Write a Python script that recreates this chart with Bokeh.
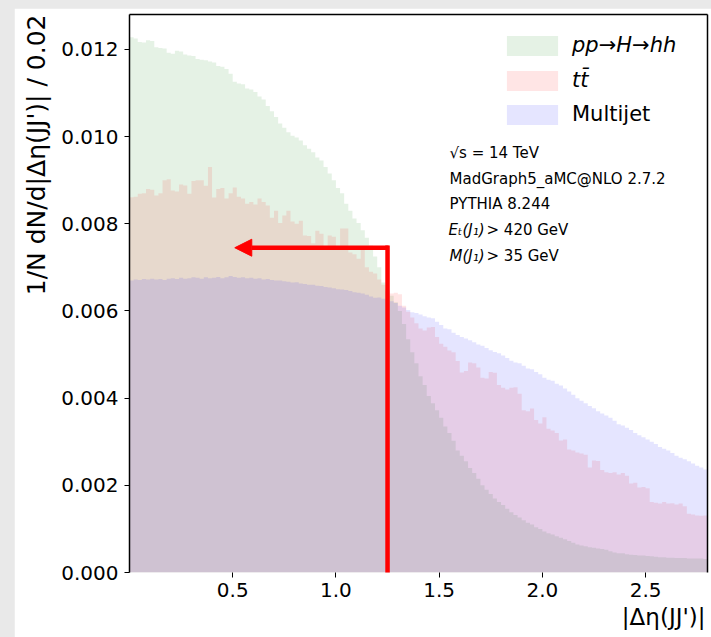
from bokeh.embed import file_html
from bokeh.layouts import column
from bokeh.models import (Arrow, ColumnDataSource, FixedTicker, Label, Legend,
                          LegendItem, LinearAxis, NormalHead, PrintfTickFormatter,
                          Range1d, Title)
from bokeh.plotting import figure
from bokeh.resources import INLINE

# |Delta eta(JJ')| histograms, bin width 0.02, normalised to unit area.
BIN_WIDTH = 0.02
N_BINS = 140

# bin contents in units of 1e-3
signal_hh = [
    12.28, 12.25, 12.17, 12.16, 12.21, 12.19, 12.05, 12.03, 12.02, 11.92,
    11.90, 11.97, 11.95, 11.88, 11.86, 11.85, 11.78, 11.76, 11.75, 11.72,
    11.70, 11.62, 11.60, 11.55, 11.44, 11.26, 11.22, 11.20, 11.10, 11.08,
    11.02, 10.92, 10.85, 10.70, 10.58, 10.45, 10.30, 10.20, 10.10, 10.02,
    9.98, 9.91, 9.80, 9.72, 9.64, 9.52, 9.45, 9.30, 9.15, 9.00,
    8.82, 8.70, 8.46, 8.30, 8.12, 8.02, 7.85, 7.68, 7.50, 7.25,
    7.00, 6.65, 6.45, 6.35, 6.20, 6.00, 5.70, 5.35, 5.05, 4.80,
    4.50, 4.30, 4.05, 3.88, 3.72, 3.55, 3.35, 3.20, 3.02, 2.80,
    2.68, 2.55, 2.40, 2.28, 2.15, 2.00, 1.90, 1.80, 1.70, 1.62,
    1.55, 1.46, 1.38, 1.32, 1.26, 1.20, 1.14, 1.10, 1.04, 1.00,
    0.94, 0.90, 0.87, 0.83, 0.80, 0.76, 0.72, 0.68, 0.64, 0.62,
    0.60, 0.58, 0.57, 0.55, 0.54, 0.52, 0.49, 0.46, 0.44, 0.44,
    0.42, 0.41, 0.40, 0.39, 0.39, 0.38, 0.37, 0.36, 0.35, 0.35,
    0.34, 0.34, 0.33, 0.33, 0.33, 0.32, 0.32, 0.32, 0.32, 0.31,
]

ttbar = [
    8.61, 8.62, 8.69, 8.70, 8.80, 8.78, 8.65, 8.70, 9.00, 9.02,
    8.76, 8.74, 8.90, 8.88, 8.69, 8.98, 9.00, 9.00, 8.87, 9.30,
    8.60, 8.80, 8.82, 8.58, 8.70, 8.83, 8.62, 8.58, 8.46, 8.50,
    8.44, 8.58, 8.50, 8.42, 8.14, 8.30, 8.02, 8.19, 8.30, 8.05,
    8.00, 8.07, 7.73, 7.72, 7.55, 7.84, 7.77, 7.46, 7.73, 7.70,
    7.46, 7.89, 7.89, 7.34, 7.30, 7.20, 7.45, 7.00, 6.90, 6.86,
    6.72, 6.60, 6.50, 6.40, 6.42, 6.38, 6.12, 5.98, 5.85, 5.72,
    5.60, 5.55, 5.62, 5.63, 5.40, 5.25, 5.18, 5.09, 5.05, 4.85,
    4.59, 4.62, 4.82, 4.80, 4.70, 4.47, 4.45, 4.60, 4.58, 4.30,
    4.24, 4.20, 4.24, 4.25, 4.10, 3.72, 3.70, 3.76, 3.50, 3.42,
    3.56, 3.30, 3.26, 3.20, 3.03, 3.05, 2.82, 2.80, 2.75, 2.73,
    2.70, 2.41, 2.57, 2.56, 2.35, 2.30, 2.28, 2.30, 2.25, 2.28,
    2.22, 2.04, 2.06, 1.95, 1.96, 1.93, 1.62, 1.60, 1.58, 1.62,
    1.58, 1.59, 1.56, 1.58, 1.52, 1.35, 1.33, 1.31, 1.30, 1.31,
]

multijet = [
    6.70, 6.72, 6.71, 6.73, 6.72, 6.74, 6.72, 6.73, 6.71, 6.74,
    6.75, 6.73, 6.76, 6.74, 6.75, 6.77, 6.76, 6.74, 6.77, 6.75,
    6.76, 6.78, 6.75, 6.77, 6.80, 6.78, 6.76, 6.77, 6.75, 6.76,
    6.74, 6.75, 6.72, 6.73, 6.71, 6.70, 6.70, 6.68, 6.67, 6.65,
    6.66, 6.63, 6.62, 6.60, 6.60, 6.58, 6.57, 6.55, 6.54, 6.52,
    6.50, 6.49, 6.48, 6.46, 6.43, 6.42, 6.40, 6.37, 6.33, 6.30,
    6.31, 6.28, 6.25, 6.22, 6.18, 6.12, 6.08, 6.02, 5.97, 5.95,
    5.92, 5.88, 5.85, 5.83, 5.75, 5.68, 5.60, 5.58, 5.50, 5.45,
    5.40, 5.37, 5.33, 5.28, 5.23, 5.20, 5.15, 5.10, 5.06, 5.03,
    4.98, 4.92, 4.86, 4.82, 4.80, 4.74, 4.68, 4.66, 4.60, 4.55,
    4.47, 4.42, 4.40, 4.33, 4.29, 4.22, 4.15, 4.08, 4.00, 3.94,
    3.88, 3.82, 3.77, 3.70, 3.65, 3.60, 3.55, 3.48, 3.40, 3.37,
    3.32, 3.27, 3.20, 3.15, 3.10, 3.05, 3.00, 2.95, 2.88, 2.84,
    2.80, 2.74, 2.68, 2.63, 2.60, 2.55, 2.50, 2.45, 2.41, 2.36,
]

y_ticks = [0.000, 0.002, 0.004, 0.006, 0.008, 0.010, 0.012]
x_ticks = [0.5, 1.0, 1.5, 2.0, 2.5]

# selection cut marked on the plot
cut_value = 1.25
arrow_level = 0.00745
arrow_tip = 0.51

stat_lines = [
    "\u221as = 14 TeV",
    "MadGraph5_aMC@NLO 2.7.2",
    "PYTHIA 8.244",
]

FONT = "DejaVu Sans"

edges = [round(i * BIN_WIDTH, 2) for i in range(N_BINS + 1)]


def step_source(values):
    vals = [v * 1e-3 for v in values]
    return ColumnDataSource(dict(x=edges, top=vals + [vals[-1]]))


p = figure(
    width=697, height=629,
    x_range=Range1d(0, 2.8), y_range=Range1d(0, 0.0128),
    output_backend="svg", toolbar_location=None,
    min_border_left=115, min_border_right=4, min_border_top=6, min_border_bottom=65,
)
p.background_fill_color = "white"
p.border_fill_color = "white"
p.outline_line_color = None
p.xgrid.visible = False
p.ygrid.visible = False

series = [
    (signal_hh, "green", "pp\u2192H\u2192hh", "italic"),
    (ttbar, "red", "tt\u0304", "italic"),
    (multijet, "blue", "Multijet", "normal"),
]

renderers = []
for values, color, _, _ in series:
    r = p.varea_step(x="x", y1=0, y2="top", step_mode="after",
                     source=step_source(values),
                     fill_color=color, fill_alpha=0.1)
    renderers.append(r)

# axes
for ax in (p.xaxis[0], p.yaxis[0]):
    ax.major_tick_in = 0
    ax.major_tick_out = 5
    ax.minor_tick_line_color = None
    ax.major_tick_line_color = "black"
    ax.major_tick_line_width = 1
    ax.major_label_text_font = FONT
    ax.major_label_text_font_size = "20px"
    ax.major_label_text_color = "black"

p.yaxis[0].ticker = FixedTicker(ticks=y_ticks)
p.yaxis[0].formatter = PrintfTickFormatter(format="%.3f")
p.yaxis[0].axis_line_color = "black"
p.yaxis[0].axis_line_width = 1.5
p.yaxis[0].major_label_standoff = 6

p.xaxis[0].ticker = FixedTicker(ticks=x_ticks)
p.xaxis[0].formatter = PrintfTickFormatter(format="%.1f")
p.xaxis[0].axis_line_color = None
p.xaxis[0].major_label_standoff = 5

for side in ("above", "right"):
    spine = LinearAxis(ticker=FixedTicker(ticks=[]), axis_line_color="black",
                       axis_line_width=1.5, major_tick_line_color=None,
                       minor_tick_line_color=None, major_label_standoff=0,
                       major_label_text_font_size="0px")
    p.add_layout(spine, side)

# axis titles, right/top aligned
p.add_layout(Title(text="1/N dN/d|\u0394\u03b7(JJ')| / 0.02", align="right",
                   vertical_align="top", text_font=FONT, text_font_size="25px",
                   text_font_style="normal", text_color="black", standoff=12),
             "left")
p.add_layout(Title(text="|\u0394\u03b7(JJ')|", align="right", offset=2,
                   text_font=FONT, text_font_size="23px", text_font_style="normal",
                   text_color="black", standoff=4), "below")

# legend, one box per entry so the italic labels can be mixed with upright ones
legend_rows = [45, 80, 114]
for (values, color, label, style), r, row in zip(series, renderers, legend_rows):
    leg = Legend(items=[LegendItem(label=label, renderers=[r])],
                 location=(371, 559.5 - row), orientation="vertical",
                 glyph_width=64, glyph_height=25, label_height=25,
                 label_standoff=8, padding=0, margin=0, spacing=0,
                 border_line_color=None, background_fill_alpha=0,
                 label_text_font=FONT, label_text_font_size="21px",
                 label_text_font_style=style, label_text_color="black")
    p.add_layout(leg)

# generator / cut information
stat_y = [420, 394, 369]
for text, y in zip(stat_lines, stat_y):
    p.add_layout(Label(x=320, y=y, x_units="screen", y_units="screen", text=text,
                       text_baseline="middle", text_font=FONT,
                       text_font_size="15px", text_color="black"))
p.add_layout(Label(x=319, y=343, x_units="screen", y_units="screen",
                   text="E\u209c(J\u2081)", text_baseline="middle", text_font=FONT,
                   text_font_style="italic", text_font_size="15px", text_color="black"))
p.add_layout(Label(x=357, y=343, x_units="screen", y_units="screen",
                   text="> 420 GeV", text_baseline="middle", text_font=FONT,
                   text_font_size="15px", text_color="black"))
p.add_layout(Label(x=320, y=317, x_units="screen", y_units="screen",
                   text="M(J\u2081)", text_baseline="middle", text_font=FONT,
                   text_font_style="italic", text_font_size="15px", text_color="black"))
p.add_layout(Label(x=357, y=317, x_units="screen", y_units="screen",
                   text="> 35 GeV", text_baseline="middle", text_font=FONT,
                   text_font_size="15px", text_color="black"))

# cut marker: vertical bar at the cut, arrow pointing to the kept region
p.add_layout(Arrow(x_start=cut_value, y_start=-0.00014, x_end=cut_value,
                   y_end=arrow_level + 0.00005, end=None,
                   line_color="red", line_width=4.5))
p.add_layout(Arrow(x_start=cut_value + 0.005, y_start=arrow_level, x_end=arrow_tip,
                   y_end=arrow_level, line_color="red", line_width=4.5,
                   end=NormalHead(size=17, fill_color="red", line_color="red")))

page = column(p, styles={"background-color": "#e9e9e9", "padding-left": "14px",
                         "padding-top": "8px"})

with open("out.html", "w") as f:
    f.write(file_html(page, INLINE))
